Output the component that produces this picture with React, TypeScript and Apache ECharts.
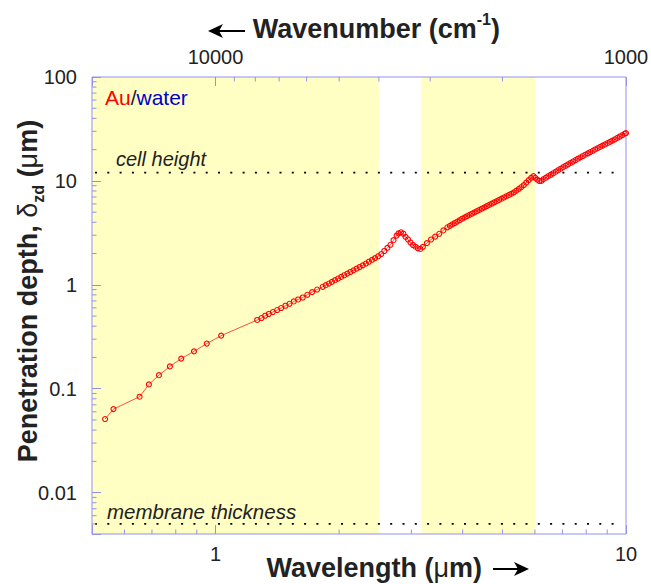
import React, { useEffect, useRef } from 'react';
import * as echarts from 'echarts';

// Au/water penetration depth — sparse visible / near-IR points (µm, µm)
const waveVis = [0.538, 0.564, 0.653, 0.688, 0.728, 0.774, 0.825, 0.886, 0.952, 1.032];
const depthVis = [0.0511, 0.0637, 0.0838, 0.110, 0.135, 0.164, 0.195, 0.229, 0.272, 0.324];

const waveNIR = [1.263, 1.294, 1.321, 1.348, 1.379, 1.413, 1.445, 1.480, 1.514, 1.551, 1.589, 1.631, 1.674, 1.719, 1.768, 1.824];
const depthNIR = [0.459, 0.479, 0.504, 0.524, 0.547, 0.572, 0.598, 0.629, 0.657, 0.692, 0.723, 0.755, 0.802, 0.851, 0.901, 0.957];

const waveIR = [
  1.856, 1.888, 1.921, 1.955, 1.989, 2.024, 2.059, 2.095, 2.131, 2.168, 2.206, 2.245, 2.284, 2.324, 2.364, 2.405,
  2.447, 2.490, 2.533, 2.577, 2.622, 2.668, 2.714, 2.761, 2.791, 2.830, 2.868, 2.904, 2.944, 2.985, 3.027, 3.069,
  3.112, 3.155, 3.199, 3.273, 3.350, 3.428, 3.508, 3.589, 3.673, 3.724, 3.776, 3.828, 3.882, 3.936, 3.990, 4.046,
  4.102, 4.159, 4.217, 4.276, 4.335, 4.395, 4.457, 4.519, 4.581, 4.645, 4.710, 4.775, 4.842, 4.909, 4.977, 5.047,
  5.117, 5.188, 5.260, 5.333, 5.408, 5.483, 5.559, 5.636, 5.715, 5.794, 5.875, 5.950, 6.012, 6.081, 6.152, 6.223,
  6.295, 6.383, 6.471, 6.561, 6.653, 6.745, 6.839, 6.934, 7.031, 7.129, 7.228, 7.328, 7.430, 7.534, 7.638, 7.745,
  7.852, 7.962, 8.072, 8.185, 8.299, 8.414, 8.531, 8.650, 8.770, 8.892, 9.016, 9.141, 9.268, 9.397, 9.528, 9.661,
  9.795, 9.931, 10.0,
];
const depthIR = [
  0.992, 1.029, 1.068, 1.108, 1.149, 1.191, 1.236, 1.282, 1.329, 1.379, 1.430, 1.484, 1.539, 1.601, 1.667, 1.736,
  1.808, 1.884, 1.976, 2.116, 2.266, 2.428, 2.688, 2.975, 3.126, 3.20, 3.10, 2.89, 2.73, 2.555, 2.417, 2.326,
  2.246, 2.213, 2.317, 2.52, 2.73, 2.906, 3.099, 3.336, 3.578, 3.693, 3.811, 3.934, 4.061, 4.193, 4.327, 4.459,
  4.585, 4.713, 4.845, 4.981, 5.122, 5.266, 5.412, 5.562, 5.716, 5.875, 6.039, 6.207, 6.380, 6.559, 6.742, 6.930,
  7.124, 7.322, 7.527, 7.757, 8.068, 8.390, 8.727, 9.108, 9.627, 10.17, 10.69, 11.10, 10.72, 10.28, 9.98, 10.0,
  10.40, 10.74, 11.10, 11.46, 11.85, 12.26, 12.67, 13.10, 13.55, 13.99, 14.43, 14.89, 15.36, 15.85, 16.35, 16.87,
  17.36, 17.87, 18.40, 18.94, 19.50, 20.07, 20.64, 21.23, 21.83, 22.44, 23.07, 23.72, 24.39, 25.13, 25.93, 26.75,
  27.59, 28.46, 28.9,
];

// Reference levels (µm)
const referenceLevels = [12, 0.005]; // cell height, membrane thickness

// Water transparency windows (µm)
const windowBands = [
  [0.5, 2.5],
  [3.17, 6.0],
];

// Axes
const xRange = [0.5, 10];
const yRange = [0.004, 100];
const topRange = [1000, 20000];
const xTickValues = [1, 10];
const xTickLabels = ['1', '10'];
const yTickValues = [0.01, 0.1, 1, 10, 100];
const yTickLabels = ['0.01', '0.1', '1', '10', '100'];
const topTickValues = [1000, 10000];
const topTickLabels = ['1000', '10000'];
const xMinorTicks = [0.6, 0.7, 0.8, 0.9, 2, 3, 4, 5, 6, 7, 8, 9];
const topMinorTicks = [2000, 3000, 4000, 5000, 6000, 7000, 8000, 9000];
const yMinorTicks = [
  0.005, 0.006, 0.007, 0.008, 0.009,
  0.02, 0.03, 0.04, 0.05, 0.06, 0.07, 0.08, 0.09,
  0.2, 0.3, 0.4, 0.5, 0.6, 0.7, 0.8, 0.9,
  2, 3, 4, 5, 6, 7, 8, 9,
  20, 30, 40, 50, 60, 70, 80, 90,
];

const AXIS = '#9292ee';
const TEXT = '#222222';
const FONT = '"Liberation Sans", Arial, Helvetica, sans-serif';
const TITLE_SIZE = 27;
const TICK_SIZE = 20;

const labelFor = (vals: number[], labels: string[]) => (v: number) => {
  for (let i = 0; i < vals.length; i++) if (Math.abs(v / vals[i] - 1) < 1e-6) return labels[i];
  return '';
};

function tickSeries(values: number[], side: 'bottom' | 'top' | 'left', len: number) {
  return {
    type: 'custom',
    xAxisIndex: side === 'top' ? 1 : 0,
    yAxisIndex: 0,
    silent: true,
    z: 6,
    data: values.map((v) => (side === 'left' ? [1, v] : [v, 1])),
    renderItem: (params: any, api: any) => {
      const cs = params.coordSys;
      const p = api.coord([api.value(0), api.value(1)]);
      let shape;
      if (side === 'bottom') shape = { x1: p[0], y1: cs.y + cs.height, x2: p[0], y2: cs.y + cs.height - len };
      else if (side === 'top') shape = { x1: p[0], y1: cs.y, x2: p[0], y2: cs.y + len };
      else shape = { x1: cs.x, y1: p[1], x2: cs.x + len, y2: p[1] };
      return { type: 'line', shape, style: { stroke: AXIS, lineWidth: 1 } };
    },
  };
}

export default function App() {
  const ref = useRef<HTMLDivElement>(null);
  useEffect(() => {
    if (!ref.current) return;
    const chart = echarts.init(ref.current, null, { renderer: 'svg' });

    const lineData = [
      ...waveVis.map((w, i) => [w, depthVis[i]]),
      ...waveNIR.map((w, i) => [w, depthNIR[i]]),
      ...waveIR.map((w, i) => [w, depthIR[i]]),
    ];

    const bold = { fontFamily: FONT, fontSize: TITLE_SIZE, fontWeight: 'bold', fill: TEXT, lineHeight: 36 };
    const greek = { fontFamily: FONT, fontSize: TITLE_SIZE, fontWeight: 'normal', fill: TEXT, lineHeight: 36 };
    const tickLabel = { fontSize: TICK_SIZE, color: TEXT, fontFamily: FONT };

    const option: any = {
      animation: false,
      backgroundColor: '#ffffff',
      grid: {
        left: 92, right: 25, top: 77, bottom: 50,
        show: true, borderColor: AXIS, borderWidth: 1, backgroundColor: 'transparent',
        containLabel: false, outerBoundsMode: 'none',
      },
      xAxis: [
        {
          type: 'log', logBase: 10, min: xRange[0], max: xRange[1], position: 'bottom',
          axisLine: { show: false }, splitLine: { show: false },
          axisTick: { inside: true, length: 9, lineStyle: { color: AXIS } },
          axisLabel: { ...tickLabel, margin: 10, formatter: labelFor(xTickValues, xTickLabels) },
        },
        {
          type: 'log', logBase: 10, min: topRange[0], max: topRange[1], inverse: true, position: 'top',
          axisLine: { show: false }, splitLine: { show: false },
          axisTick: { inside: true, length: 9, lineStyle: { color: AXIS } },
          axisLabel: { ...tickLabel, margin: 10, formatter: labelFor(topTickValues, topTickLabels) },
        },
      ],
      yAxis: [
        {
          type: 'log', logBase: 10, min: yRange[0], max: yRange[1],
          axisLine: { show: false }, splitLine: { show: false },
          axisTick: { inside: true, length: 9, lineStyle: { color: AXIS } },
          axisLabel: { ...tickLabel, margin: 15, formatter: labelFor(yTickValues, yTickLabels) },
        },
      ],
      series: [
        {
          type: 'custom',
          xAxisIndex: 0, yAxisIndex: 0, silent: true, z: -1,
          data: windowBands.map((b) => [b[0], b[1]]),
          renderItem: (params: any, api: any) => {
            const cs = params.coordSys;
            const a = api.coord([api.value(0), 1]);
            const b = api.coord([api.value(1), 1]);
            return {
              type: 'rect',
              shape: { x: a[0], y: cs.y, width: b[0] - a[0], height: cs.height },
              style: { fill: '#ffffc4' },
            };
          },
        },
        {
          type: 'custom',
          xAxisIndex: 0, yAxisIndex: 0, silent: true, z: 3,
          data: referenceLevels.map((v) => [1, v]),
          renderItem: (params: any, api: any) => {
            const cs = params.coordSys;
            const p = api.coord([api.value(0), api.value(1)]);
            return {
              type: 'line',
              shape: { x1: cs.x + 3, y1: p[1], x2: cs.x + cs.width - 5, y2: p[1] },
              style: { stroke: '#000', lineWidth: 1.7, lineDash: [2, 10.3] },
            };
          },
        },
        tickSeries(xMinorTicks, 'bottom', 4.5),
        tickSeries(topMinorTicks, 'top', 4.5),
        tickSeries(yMinorTicks, 'left', 4.5),
        {
          type: 'line',
          data: lineData,
          xAxisIndex: 0, yAxisIndex: 0,
          showAllSymbol: true,
          symbol: 'circle',
          symbolSize: 5,
          lineStyle: { color: '#ff2020', width: 0.8 },
          itemStyle: { color: 'rgba(255,255,255,0)', borderColor: '#ff0000', borderWidth: 1.1 },
          z: 4,
        },
      ],
      graphic: [
        {
          type: 'text', x: 105, y: 97, z: 10,
          style: {
            text: '{r|Au}{k|/}{b|water}',
            align: 'left', verticalAlign: 'middle',
            rich: {
              r: { fontFamily: FONT, fontSize: 21, fill: '#ff0000' },
              k: { fontFamily: FONT, fontSize: 21, fill: '#222222' },
              b: { fontFamily: FONT, fontSize: 21, fill: '#0000cc' },
            },
          },
        },
        {
          type: 'text', x: 116, y: 159, z: 10,
          style: { text: 'cell height', fontFamily: FONT, fontSize: 20, fontStyle: 'italic', fill: TEXT, verticalAlign: 'middle', align: 'left' },
        },
        {
          type: 'text', x: 107, y: 511, z: 10,
          style: { text: 'membrane thickness', fontFamily: FONT, fontSize: 20.5, fontStyle: 'italic', fill: TEXT, verticalAlign: 'middle', align: 'left' },
        },
        {
          type: 'text', x: 28, y: 291, rotation: Math.PI / 2, z: 10,
          style: {
            text: '{b|Penetration depth, }{g|δ}{s|zd}{b| (}{g|μ}{b|m)}',
            align: 'center', verticalAlign: 'middle',
            rich: {
              b: bold,
              g: greek,
              s: { fontFamily: FONT, fontSize: 16, fontWeight: 'bold', fill: TEXT, lineHeight: 12, verticalAlign: 'bottom' },
            },
          },
        },
        {
          type: 'text', x: 482, y: 568, z: 10,
          style: {
            text: '{b|Wavelength (}{g|μ}{b|m)}',
            align: 'right', verticalAlign: 'middle',
            rich: { b: bold, g: greek },
          },
        },
        {
          type: 'text', x: 500, y: 29, z: 10,
          style: {
            text: '{b|Wavenumber (cm}{p|-1}{b|)}',
            align: 'right', verticalAlign: 'middle',
            rich: {
              b: bold,
              p: { fontFamily: FONT, fontSize: 16, fontWeight: 'bold', fill: TEXT, lineHeight: 15, verticalAlign: 'top' },
            },
          },
        },
        { type: 'line', z: 10, shape: { x1: 493, y1: 569, x2: 524, y2: 569 }, style: { stroke: '#000', lineWidth: 2 } },
        { type: 'polygon', z: 10, shape: { points: [[529, 569], [514, 562], [518, 569], [514, 576]] }, style: { fill: '#000' } },
        { type: 'line', z: 10, shape: { x1: 213, y1: 31, x2: 245, y2: 31 }, style: { stroke: '#000', lineWidth: 2 } },
        { type: 'polygon', z: 10, shape: { points: [[208, 31], [223, 24], [219, 31], [223, 38]] }, style: { fill: '#000' } },
      ],
    };
    chart.setOption(option);
    return () => chart.dispose();
  }, []);
  return (
    <div
      ref={ref}
      style={{ position: 'fixed', left: 0, top: 0, width: 651, height: 584, background: '#fff' }}
    />
  );
}
